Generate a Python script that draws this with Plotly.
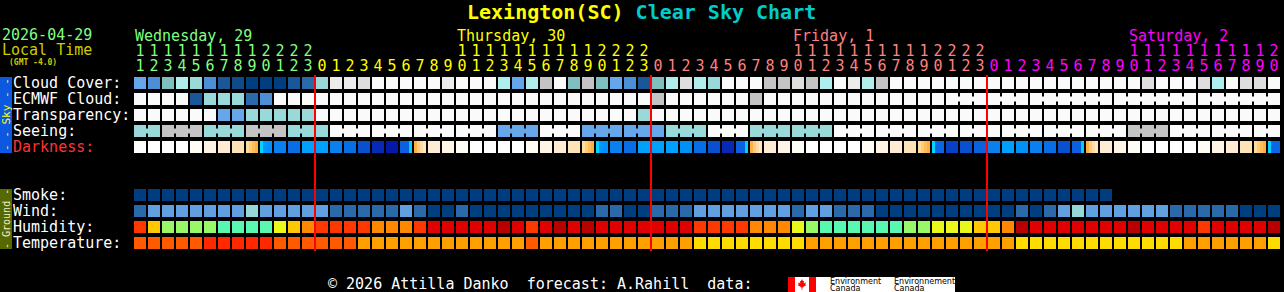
import plotly.graph_objects as go

# ---------------- categories ----------------
day_names = ["Wednesday, 29", "Thursday, 30", "Friday, 1", "Saturday, 2"]
day_colors = ["#80ff80", "#ffff00", "#ff8080", "#ff00ff"]
day_hours = [
    [11, 12, 13, 14, 15, 16, 17, 18, 19, 20, 21, 22, 23],
    [0, 1, 2, 3, 4, 5, 6, 7, 8, 9, 10, 11, 12, 13, 14, 15, 16, 17, 18, 19, 20, 21, 22, 23],
    [0, 1, 2, 3, 4, 5, 6, 7, 8, 9, 10, 11, 12, 13, 14, 15, 16, 17, 18, 19, 20, 21, 22, 23],
    [0, 1, 2, 3, 4, 5, 6, 7, 8, 9, 10, 11, 12, 13, 14, 15, 16, 17, 18, 19, 20],
]
sky_labels = ["Cloud Cover:", "ECMWF Cloud:", "Transparency:", "Seeing:", "Darkness:"]
ground_labels = ["Smoke:", "Wind:", "Humidity:", "Temperature:"]

# ---------------- series (palette levels per hour) ----------------
cloud_cover = [5, 4, 6, 8, 7, 4, 2, 1, 0, 0, 0, 2, 3,
               7, 11, 11, 10, 12, 12, 12, 12, 12, 11, 12, 12, 12, 8, 5, 8, 9, 12, 6, 9, 6, 5, 4, 2,
               6, 8, 10, 8, 7, 12, 12, 12, 9, 9, 10, 9, 8, 12, 11, 8, 9, 12, 12, 12, 12, 12, 12, 12,
               12, 12, 12, 12, 12, 12, 12, 12, 12, 12, 12, 10, 12, 12, 12, 10, 8, 12, 10, 10, 12]
ecmwf_cloud = [12, 12, 12, 12, 2, 7, 7, 7, 3, 4, 12, 12, 12,
               12, 12, 12, 12, 12, 12, 12, 12, 12, 12, 12, 12, 12, 12, 12, 12, 12, 12, 12, 12, 12, 12, 12, 12,
               9, 12, 12, 12, 12, 12, 12, 9, 12, 12, 12, 12, 12, 12, 12, 12, 12, 12, 12, 12, 12, 12, 12, 12,
               12, 12, 12, 12, 12, 12, 12, 12, 12, 12, 12, 12, 12, 12, 12, 12, 12, 12, 12, 12, 12]
ecmwf_runs = [1, 1, 1, 1, 1, 1, 1, 1, 1, 1, 1, 1, 1, 1, 1, 1, 1, 1, 1, 1, 1, 1, 1, 1, 1, 1, 1, 1, 1,
              1, 1, 1, 1, 1, 1, 1, 1, 1, 1, 1, 1, 1, 1, 1, 1, 1, 1, 1, 1, 1, 1, 1, 1, 1, 1, 1, 1, 1,
              3, 3, 6, 6, 6]
transparency = [12, 12, 12, 12, 12, 12, 5, 5, 7, 7, 7, 7, 7,
                12, 12, 12, 12, 12, 12, 12, 12, 12, 12, 12, 12, 12, 12, 12, 12, 12, 12, 12, 12, 12, 12, 12, 7,
                12, 12, 12, 12, 12, 12, 12, 12, 12, 12, 12, 12, 12, 12, 12, 12, 12, 12, 12, 12, 12, 12, 12, 12,
                12, 12, 12, 12, 12, 12, 12, 12, 12, 12, 12, 12, 12, 12, 12, 12, 12, 12, 12, 12, 12]
seeing = [7, 7, 9, 9, 9, 7, 7, 7, 9, 9, 9, 7, 7,
          7, 12, 12, 12, 12, 12, 12, 12, 12, 12, 12, 12, 12, 5, 5, 5, 12, 12, 12, 5, 5, 5, 5, 5,
          5, 7, 7, 7, 12, 12, 12, 7, 7, 7, 7, 7, 7, 12, 12, 12, 12, 12, 12, 12, 12, 12, 12, 12,
          12, 12, 12, 12, 12, 12, 12, 12, 12, 12, 9, 9, 9, 12, 12, 12, 12, 12, 12, 12, 12]
seeing_runs = [2, 3, 3, 3, 3, 3, 3, 3, 3, 3, 3, 3, 3, 3, 3, 3, 3, 3, 3, 3, 3, 3, 3, 3, 3, 3, 3, 2]
darkness = ["D", "D", "D", "D", "a", "b", "c", "d", "E", "S1", "n3", "n4", "n1",
            "n1", "n3", "n4", "n6", "n8", "n9", "R", "M", "c", "b", "a", "D", "D", "D", "D",
            "a", "b", "c", "d", "E", "S1", "n3", "n4", "n1",
            "n1", "n1", "n2", "n4", "n6", "n8", "R", "M", "c", "b", "a", "D", "D", "D", "D",
            "a", "b", "c", "d", "E", "S2", "n7", "n6", "n5",
            "n3", "n1", "n2", "n3", "n4", "n6", "R", "M", "c", "b", "a", "D", "D", "D", "D",
            "a", "b", "c", "d", "E", "S2"]
smoke = [0, 0, 0, 0, 0, 0, 0, 0, 0, 0, 0, 0, 0,
         0, 0, 0, 0, 0, 0, 0, 0, 0, 0, 0, 0, 0, 0, 0, 0, 0, 0, 0, 0, 0, 0, 0, 0,
         0, 0, 0, 0, 0, 0, 0, 0, 0, 0, 0, 0, 0, 0, 0, 0, 0, 0, 0, 0, 0, 0, 0, 0,
         0, 0, 0, 0, 0, 0, 0, 0, 0, None, None, None, None, None, None, None, None, None, None, None, None]
wind = [1, 2, 2, 2, 2, 2, 2, 2, 3, 2, 2, 2, 2,
        2, 1, 1, 1, 1, 1, 2, 1, 0, 0, 1, 0, 0, 0, 0, 0, 0, 0, 0, 0, 1, 1, 0, 0,
        1, 1, 1, 2, 2, 2, 2, 2, 2, 2, 1, 2, 2, 1, 1, 1, 0, 0, 0, 0, 0, 0, 0, 0,
        0, 0, 1, 0, 1, 2, 3, 2, 2, 2, 2, 2, 2, 1, 1, 1, 1, 1, 0, 0, 0]
humidity = [2, 4, 6, 6, 6, 6, 7, 7, 7, 7, 5, 4, 3,
            2, 2, 2, 2, 3, 3, 3, 2, 1, 1, 1, 1, 1, 0, 1, 2, 1, 0, 1, 0, 1, 1, 1, 1,
            1, 1, 1, 2, 2, 2, 2, 3, 3, 3, 5, 6, 7, 7, 7, 7, 7, 7, 6, 6, 5, 5, 5, 4,
            4, 3, 0, 1, 1, 1, 1, 1, 1, 1, 0, 1, 1, 1, 1, 2, 1, 1, 1, 1, 0]
temperature = [1, 1, 1, 1, 1, 0, 0, 0, 0, 0, 1, 1, 1,
               1, 1, 1, 2, 2, 2, 2, 2, 2, 2, 2, 2, 2, 2, 2, 1, 2, 2, 2, 2, 2, 2, 2, 2,
               2, 2, 2, 3, 3, 3, 3, 3, 3, 3, 3, 2, 2, 2, 2, 2, 2, 2, 2, 2, 2, 2, 2, 2,
               2, 2, 3, 3, 3, 3, 3, 3, 3, 3, 3, 3, 3, 3, 2, 2, 2, 2, 2, 2, 3]

# ---------------- styles ----------------
SKY_PAL = ["#003f7f", "#0d4b8b", "#1a5799", "#2a6aaa", "#4d8fd6", "#66a6ea", "#7fbfbf",
           "#99d9d9", "#b0eeee", "#c4c4c4", "#dedede", "#ececec", "#fafafa"]
WIND_PAL = ["#003f7f", "#2a6aaa", "#60a0e0", "#96d6d6"]
HUM_PAL = ["#b80000", "#e00000", "#ff3800", "#ff8800", "#ffc800", "#e8f818", "#98f868", "#58f8b0"]
TEMP_PAL = ["#ff2800", "#ff5a00", "#ffa000", "#ffdc00"]
SMOKE_PAL = ["#003c80"]
DARK_PAL = {
    "D": ["#ffffff"], "a": ["#fffcf6"], "b": ["#fff4e6"], "c": ["#ffecd2"], "d": ["#ffe2b6"],
    "E": ["#ffdc9c", "#ffcc78", "#ffbc58", "#ffb040"],
    "M": ["#ffb040", "#ffcc80", "#ffdcaa", "#ffe6c4"],
    "S1": ["#00d4ff", "#0096ff", "#0090ff", "#0090ff"],
    "S2": ["#00d4ff", "#0a66e4", "#0a66e4", "#0a66e4"],
    "R": ["#0a60e0", "#0a60e0", "#0a60e0", "#00d0ff"],
    "n1": ["#00a0ff"], "n2": ["#0090f8"], "n3": ["#0a80f0"], "n4": ["#086ee8"],
    "n5": ["#0a62e0"], "n6": ["#0850d0"], "n7": ["#0840c8"], "n8": ["#0828b8"], "n9": ["#0618a8"],
}
MONO = "DejaVu Sans Mono"
W, H = 1284, 292
X0_PX, PITCH = 140, 14
ROW0_PX, ROW_PITCH = 83, 16
CELL_W = 12 / PITCH
CELL_H = 12 / ROW_PITCH
BR_W = 4 / PITCH
BR_H = 5 / ROW_PITCH


def px2x(p):
    return (p - X0_PX) / PITCH


def py2r(p):
    return (p - ROW0_PX) / ROW_PITCH


hours = [h for hs in day_hours for h in hs]
day_idx = [d for d, hs in enumerate(day_hours) for _ in hs]

fig = go.Figure()


def cells(r, vals, pal):
    xs = [k for k, v in enumerate(vals) if v is not None]
    fig.add_trace(go.Bar(x=xs, y=[CELL_H] * len(xs), base=[r - CELL_H / 2] * len(xs), width=CELL_W,
                         marker=dict(color=[pal[vals[k]] for k in xs], line=dict(width=0)),
                         hoverinfo="skip", showlegend=False))


def bridges(r, vals, pal, runs):
    xs, cs = [], []
    k = 0
    for n in runs:
        for j in range(k, k + n - 1):
            xs.append(j + 0.5)
            cs.append(pal[vals[j]])
        k += n
    if xs:
        fig.add_trace(go.Bar(x=xs, y=[BR_H] * len(xs), base=[r - BR_H / 2] * len(xs), width=BR_W,
                             marker=dict(color=cs, line=dict(width=0)), hoverinfo="skip", showlegend=False))


cells(0, cloud_cover, SKY_PAL)
cells(1, ecmwf_cloud, SKY_PAL)
bridges(1, ecmwf_cloud, SKY_PAL, ecmwf_runs)
cells(2, transparency, SKY_PAL)
cells(3, seeing, SKY_PAL)
bridges(3, seeing, SKY_PAL, seeing_runs)

# darkness: striped cells
dx, dw, dc = [], [], []
for k, code in enumerate(darkness):
    st = DARK_PAL[code]
    n = len(st)
    left, right = k - CELL_W / 2, k + CELL_W / 2
    for i, c in enumerate(st):
        s = left + i * CELL_W / n
        dx.append((s + right) / 2)
        dw.append(right - s)
        dc.append(c)
fig.add_trace(go.Bar(x=dx, y=[CELL_H] * len(dx), base=[4 - CELL_H / 2] * len(dx), width=dw,
                     marker=dict(color=dc, line=dict(width=0)), hoverinfo="skip", showlegend=False))

cells(7, smoke, SMOKE_PAL)
cells(8, wind, WIND_PAL)
cells(9, humidity, HUM_PAL)
cells(10, temperature, TEMP_PAL)

# midnight lines
for k, h in enumerate(hours):
    if h == 0 and k > 0:
        fig.add_shape(type="line", xref="x", yref="y", x0=k - 0.5, x1=k - 0.5, y0=-0.5, y1=10.5,
                      line=dict(color="#ff0000", width=2), layer="above")

# hour labels
tens_k = [k for k, h in enumerate(hours) if h >= 10]
fig.add_trace(go.Scatter(x=tens_k, y=[py2r(52)] * len(tens_k), mode="text",
                         text=[str(hours[k] // 10) for k in tens_k],
                         textfont=dict(family=MONO, size=15, color=[day_colors[day_idx[k]] for k in tens_k]),
                         hoverinfo="skip", showlegend=False))
fig.add_trace(go.Scatter(x=list(range(len(hours))), y=[py2r(67)] * len(hours), mode="text",
                         text=[str(h % 10) for h in hours],
                         textfont=dict(family=MONO, size=15, color=[day_colors[d] for d in day_idx]),
                         hoverinfo="skip", showlegend=False))


def ann(text, xpx, ypx, color, size=15, xanchor="left", family=MONO, angle=0):
    fig.add_annotation(x=px2x(xpx), y=py2r(ypx), xref="x", yref="y", text=text, showarrow=False,
                       xanchor=xanchor, yanchor="middle", borderpad=0, borderwidth=0,
                       font=dict(family=family, size=size, color=color), textangle=angle)


# day labels above the 10 o'clock column (or first column)
for d, name in enumerate(day_names):
    ks = [k for k in range(len(hours)) if day_idx[k] == d]
    kk = next((k for k in ks if hours[k] == 10), ks[0])
    fig.add_annotation(x=kk - CELL_W / 2, y=py2r(36), xref="x", yref="y", text=name, showarrow=False,
                       xanchor="left", yanchor="middle", borderpad=0,
                       font=dict(family=MONO, size=15, color=day_colors[d]))

# title
ann("<b><span style='color:#ffff00'>Lexington(SC)</span> <span style='color:#00cccc'>Clear Sky Chart</span></b>",
    641, 12, "#ffff00", size=20, xanchor="center")
ann("2026-04-29", 2, 35, "#80ff80")
ann("Local Time", 2, 50, "#cccc00")
ann("<b>(GMT -4.0)</b>", 9, 62, "#cccc00", size=8)

for i, t in enumerate(sky_labels):
    ann(t, 13, ROW0_PX + ROW_PITCH * i, "#ff3333" if t == "Darkness:" else "#ffffff")
for i, t in enumerate(ground_labels):
    ann(t, 13, ROW0_PX + ROW_PITCH * (7 + i), "#ffffff")

# side bars
fig.add_shape(type="rect", xref="x", yref="y", x0=px2x(0), x1=px2x(12), y0=-0.375, y1=4.375,
              fillcolor="#0c58e0", line=dict(width=0), layer="below")
fig.add_shape(type="rect", xref="x", yref="y", x0=px2x(0), x1=px2x(12), y0=6.625, y1=10.375,
              fillcolor="#566800", line=dict(width=0), layer="below")
ann("- - Sky - -", 6, 115, "#ffff00", size=11, xanchor="center", angle=-90)
ann("- Ground -", 6, 219, "#f0f0d0", size=10, xanchor="center", angle=-90)

# footer
ann("\u00a9 2026 Attilla Danko\u00a0\u00a0forecast: A.Rahill\u00a0\u00a0data:", 328, 284, "#ffffff")


def pxp(x):
    return x / W


def pyp(y):
    return 1 - y / H


fig.add_shape(type="rect", xref="paper", yref="paper", x0=pxp(788), x1=pxp(955), y0=pyp(292), y1=pyp(277),
              fillcolor="#ffffff", line=dict(width=0))
fig.add_shape(type="rect", xref="paper", yref="paper", x0=pxp(788), x1=pxp(795), y0=pyp(292), y1=pyp(277),
              fillcolor="#ff0000", line=dict(width=0))
fig.add_shape(type="rect", xref="paper", yref="paper", x0=pxp(809), x1=pxp(816), y0=pyp(292), y1=pyp(277),
              fillcolor="#ff0000", line=dict(width=0))
leaf = [(0, -5), (1, -3), (2, -3.5), (1.5, -1), (3.5, -2), (3, 0), (4, 0.5), (1, 2.2), (1.2, 3),
        (0.3, 2.6), (0.3, 5), (-0.3, 5), (-0.3, 2.6), (-1.2, 3), (-1, 2.2), (-4, 0.5), (-3, 0),
        (-3.5, -2), (-1.5, -1), (-2, -3.5), (-1, -3)]
path = "M " + " L ".join(f"{pxp(802 + 1.1 * a):.5f},{pyp(284.5 + 1.1 * b):.5f}" for a, b in leaf) + " Z"
fig.add_shape(type="path", xref="paper", yref="paper", path=path, fillcolor="#ff0000", line=dict(width=0))
for txt, xx, yy in [("Environment", 829, 281), ("Canada", 829, 288.5),
                    ("Environnement", 893, 281), ("Canada", 893, 288.5)]:
    fig.add_annotation(x=pxp(xx), y=pyp(yy), xref="paper", yref="paper", text=txt, showarrow=False,
                       xanchor="left", yanchor="middle", borderpad=0,
                       font=dict(family="DejaVu Sans", size=8, color="#000000"))

fig.update_layout(
    width=W, height=H, margin=dict(l=0, r=0, t=0, b=0),
    paper_bgcolor="#000000", plot_bgcolor="#000000", barmode="overlay", showlegend=False,
    xaxis=dict(range=[px2x(0), px2x(W)], visible=False, fixedrange=True),
    yaxis=dict(range=[py2r(H), py2r(0)], visible=False, fixedrange=True),
)
fig.write_html("out.html", config={"displayModeBar": False})
